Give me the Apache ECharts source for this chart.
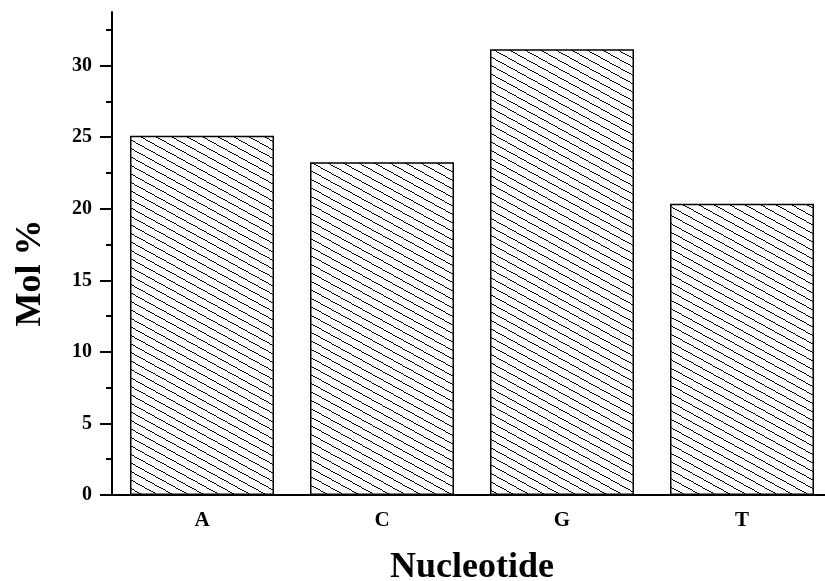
<!DOCTYPE html>
<html>
<head>
<meta charset="utf-8">
<script src="https://cdn.jsdelivr.net/npm/echarts@6/dist/echarts.min.js"></script>
<style>html,body{margin:0;padding:0;background:#fff}#c{width:825px;height:581px}</style>
</head>
<body>
<div id="c"></div>
<script>
const categories = ['A', 'C', 'G', 'T'];
const molPercent = [25.1, 23.25, 31.15, 20.35];
const yMajorTicks = [0, 5, 10, 15, 20, 25, 30];
const yMinorTicks = [2.5, 7.5, 12.5, 17.5, 22.5, 27.5, 32.5];
const yMax = 33.75;

function hatch() {
  const W = 31, H = 17;
  const c = document.createElement('canvas');
  c.width = W; c.height = H;
  const g = c.getContext('2d');
  g.fillStyle = '#fff';
  g.fillRect(0, 0, W, H);
  g.fillStyle = '#000';
  const s = H / W;
  for (let x = 0; x < W; x++) {
    for (let k = 0; k < 2; k++) {
      let y = Math.round(s * x + k * H / 2) % H;
      g.fillRect(x, y, 1, 1);
    }
  }
  return c;
}

const font = 'Liberation Serif';
const gridBox = { left: 112, right: -7, top: 12, bottom: 86, outerBoundsMode: 'none', containLabel: false };
const chart = echarts.init(document.getElementById('c'));
chart.setOption({
  animation: false,
  backgroundColor: '#fff',
  grid: [Object.assign({}, gridBox), Object.assign({}, gridBox)],
  xAxis: [{
    type: 'category', gridIndex: 0, data: categories,
    name: 'Nucleotide', nameLocation: 'middle', nameGap: 55,
    nameTextStyle: { fontFamily: font, fontWeight: 'bold', fontSize: 36, color: '#000' },
    axisLine: { lineStyle: { color: '#000', width: 2 } },
    axisTick: { alignWithLabel: true, length: 10, lineStyle: { color: '#000', width: 2 } },
    axisLabel: { fontFamily: font, fontWeight: 'bold', fontSize: 21, color: '#000', margin: 15 }
  }, {
    type: 'category', gridIndex: 1, data: categories, position: 'bottom',
    axisLine: { show: false },
    axisTick: { alignWithLabel: false, length: 4, lineStyle: { color: '#000', width: 2 } },
    axisLabel: { show: false }
  }],
  yAxis: [{
    type: 'value', gridIndex: 0, min: 0, max: yMax, interval: 5,
    splitLine: { show: false },
    axisLine: { show: true, lineStyle: { color: '#000', width: 2 } },
    axisTick: { show: true, length: 12, customValues: yMajorTicks, lineStyle: { color: '#000', width: 2 } },
    axisLabel: { customValues: yMajorTicks, fontFamily: font, fontWeight: 'bold', fontSize: 20, color: '#000', margin: 20 }
  }, {
    type: 'value', gridIndex: 1, min: 0, max: yMax, interval: 5,
    splitLine: { show: false },
    axisLine: { show: false },
    axisTick: { show: true, length: 6, customValues: yMinorTicks, lineStyle: { color: '#000', width: 2 } },
    axisLabel: { show: false }
  }],
  graphic: [{
    type: 'text',
    x: 31, y: 273, rotation: Math.PI / 2,
    style: { text: 'Mol %', fontFamily: font, fontWeight: 'bold', fontSize: 36, fill: '#000', align: 'center', verticalAlign: 'middle' }
  }],
  series: [{
    type: 'bar', xAxisIndex: 0, yAxisIndex: 0,
    data: molPercent, barWidth: '80%',
    itemStyle: { color: { image: hatch(), repeat: 'repeat' }, borderColor: '#000', borderWidth: 1.5 }
  }]
});
</script>
</body>
</html>
